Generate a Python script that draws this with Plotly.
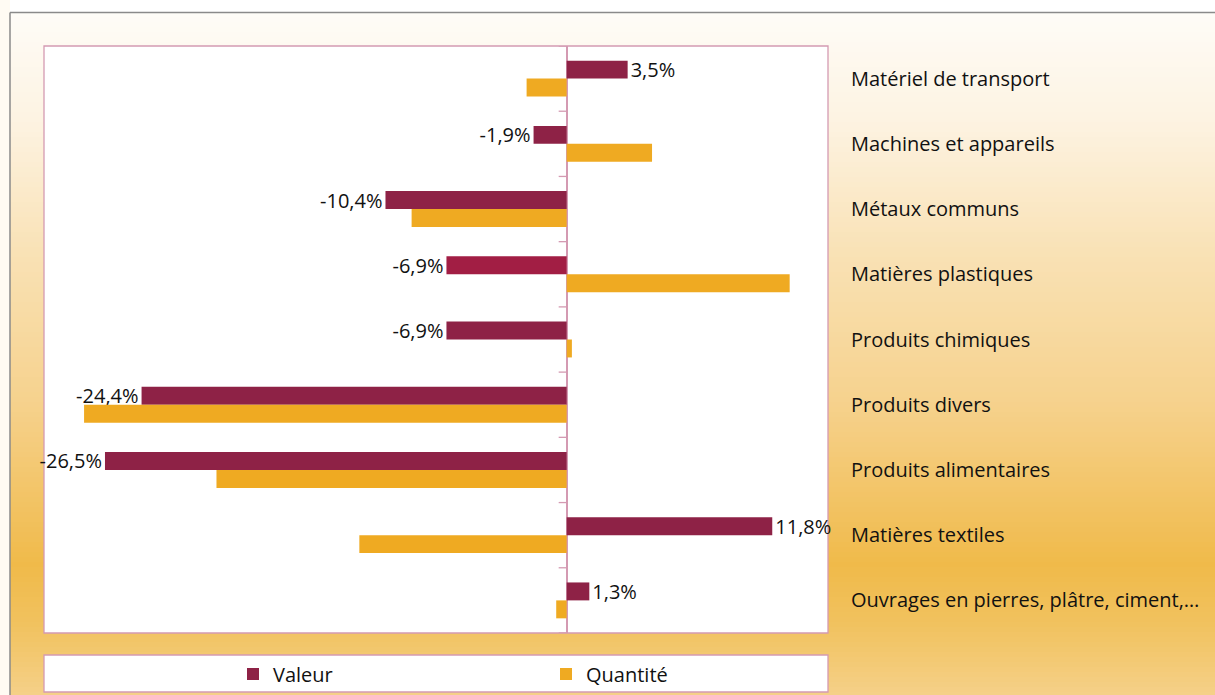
import plotly.graph_objects as go

# ---------------- data ----------------
categories = [
    "Matériel de transport",
    "Machines et appareils",
    "Métaux communs",
    "Matières plastiques",
    "Produits chimiques",
    "Produits divers",
    "Produits alimentaires",
    "Matières textiles",
    "Ouvrages en pierres, plâtre, ciment,…",
]
valeur = [3.5, -1.9, -10.4, -6.9, -6.9, -24.4, -26.5, 11.8, 1.3]
quantite = [-2.3, 4.9, -8.9, 12.8, 0.3, -27.7, -20.1, -11.9, -0.6]
series_names = ["Valeur", "Quantité"]

valeur_labels = [f"{v:.1f}".replace(".", ",") + "%" for v in valeur]

# ---------------- styling ----------------
W, H = 1215, 695
FONT = "Open Sans"
FS = 20
C_VAL = "#8E2246"
C_VAL_HL = "#A21E44"
C_QTY = "#EFAA22"
PINK = "#D49AB2"
TXT = "#111111"

val_colors = [C_VAL] * len(categories)
val_colors[3] = C_VAL_HL

px_x = lambda p: p / W
px_y = lambda p: 1 - p / H

fig = go.Figure()
fig.add_trace(go.Bar(
    y=categories, x=valeur, name=series_names[0], orientation="h",
    marker=dict(color=val_colors, line=dict(width=0)),
    text=valeur_labels, textposition="outside", cliponaxis=False,
    constraintext="none",
    textfont=dict(family=FONT, size=FS, color=TXT),
))
fig.add_trace(go.Bar(
    y=categories, x=quantite, name=series_names[1], orientation="h",
    marker=dict(color=C_QTY, line=dict(width=0)),
))

# ---------------- background gradient ----------------
stops = [
    (12, (254, 252, 248)),
    (120, (253, 243, 226)),
    (250, (249, 226, 182)),
    (400, (246, 210, 142)),
    (565, (240, 186, 74)),
    (625, (241, 194, 95)),
    (695, (245, 208, 136)),
]


def col_at(y):
    for (y0, c0), (y1, c1) in zip(stops[:-1], stops[1:]):
        if y0 <= y <= y1:
            t = (y - y0) / (y1 - y0)
            return "rgb(%d,%d,%d)" % tuple(round(a + (b - a) * t) for a, b in zip(c0, c1))
    return "rgb(%d,%d,%d)" % stops[-1][1]


shapes = []
shapes.append(dict(type="rect", xref="paper", yref="paper", x0=0, x1=px_x(10),
                   y0=0, y1=1, fillcolor="#FFFBF3", line=dict(width=0), layer="below"))
step = 5
y = 12
while y < H:
    y2 = min(y + step, H)
    shapes.append(dict(type="rect", xref="paper", yref="paper",
                       x0=px_x(10), x1=1, y0=px_y(y2 + 0.5), y1=px_y(y),
                       fillcolor=col_at((y + y2) / 2), line=dict(width=0), layer="below"))
    y = y2

# frame lines
shapes.append(dict(type="line", xref="paper", yref="paper", x0=px_x(10), x1=1,
                   y0=px_y(12.5), y1=px_y(12.5), line=dict(color="#8A8A8A", width=1.5), layer="below"))
shapes.append(dict(type="line", xref="paper", yref="paper", x0=px_x(10), x1=px_x(10),
                   y0=0, y1=px_y(12.5), line=dict(color="#8A8A8A", width=1.5), layer="below"))

# plot area
shapes.append(dict(type="rect", xref="paper", yref="paper",
                   x0=px_x(44), x1=px_x(828), y0=px_y(633), y1=px_y(46),
                   fillcolor="white", line=dict(color=PINK, width=1.3), layer="below"))
# legend box
shapes.append(dict(type="rect", xref="paper", yref="paper",
                   x0=px_x(44), x1=px_x(828), y0=px_y(692), y1=px_y(655),
                   fillcolor="white", line=dict(color=PINK, width=1.3), layer="below"))

# category tick marks on the zero axis
for b in range(len(categories) + 1):
    shapes.append(dict(type="line", xref="x", yref="y", xsizemode="pixel", xanchor=0,
                       x0=-8, x1=0, y0=b - 0.5, y1=b - 0.5,
                       line=dict(color=PINK, width=1.3), layer="above"))

fig.update_layout(
    width=W, height=H,
    margin=dict(l=0, r=0, t=0, b=0),
    paper_bgcolor="white",
    plot_bgcolor="rgba(0,0,0,0)",
    font=dict(family=FONT, size=FS, color=TXT),
    barmode="group", bargap=0.45, bargroupgap=0,
    shapes=shapes,
    showlegend=True,
    legend=dict(orientation="h", x=px_x(233), xanchor="left", y=px_y(674), yanchor="middle",
                bgcolor="rgba(0,0,0,0)", font=dict(family=FONT, size=FS, color=TXT),
                entrywidth=268, itemwidth=30, traceorder="normal"),
    xaxis=dict(domain=[px_x(44), px_x(828)], range=[-30, 15], showticklabels=False,
               showgrid=False, zeroline=True, zerolinecolor=PINK, zerolinewidth=1.5,
               showline=False, ticks=""),
    yaxis=dict(domain=[px_y(633), px_y(46)], type="category", categoryorder="array",
               categoryarray=categories, range=[len(categories) - 0.5, -0.5],
               side="right", ticklabelstandoff=22, showgrid=False, showline=False,
               ticks="", zeroline=False, tickfont=dict(family=FONT, size=FS, color=TXT)),
)

fig.write_html("out.html", config={"displayModeBar": False},
               post_script="document.body.style.margin='0';")
